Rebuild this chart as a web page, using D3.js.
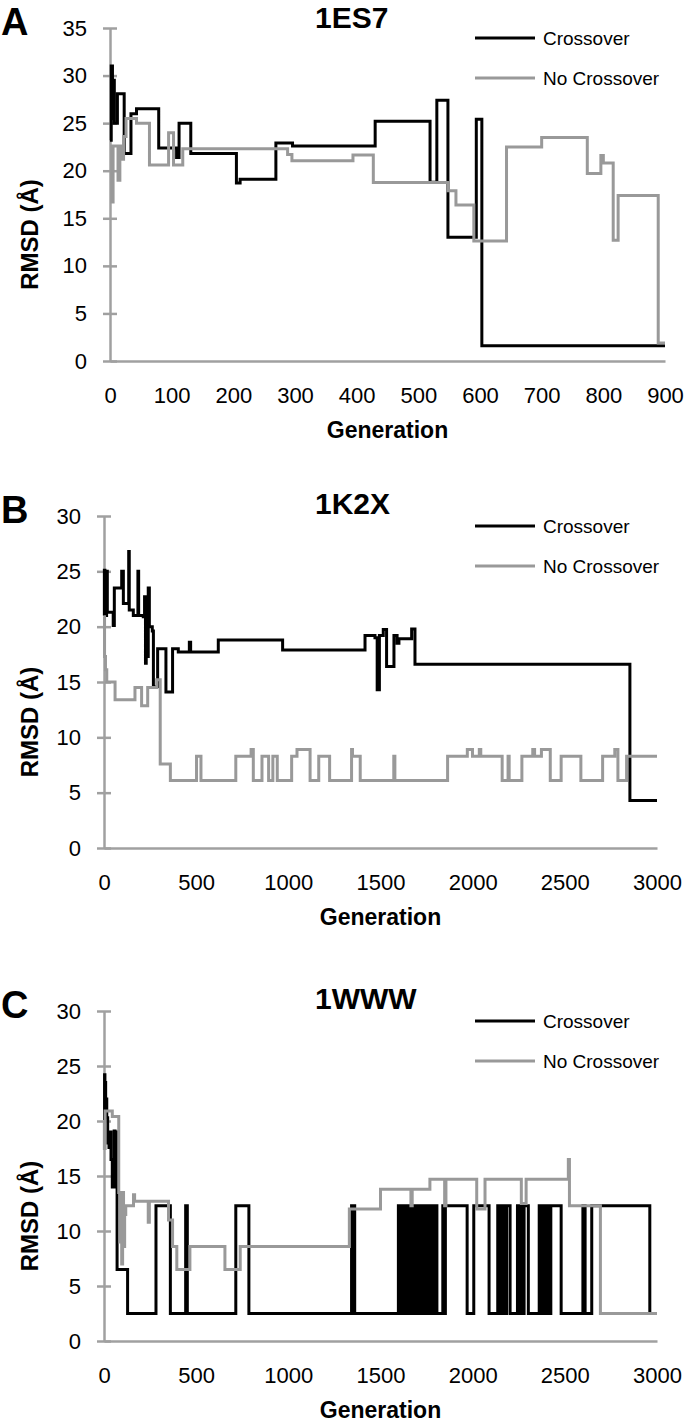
<!DOCTYPE html>
<html><head><meta charset="utf-8">
<script src="https://cdn.jsdelivr.net/npm/d3@7"></script>
<style>body{margin:0;background:#fff}svg{display:block}</style>
</head><body>
<script>
// ---------------- DATA ----------------
const seriesNames = ["Crossover", "No Crossover"];
const panelLetters = ["A", "B", "C"];
const panelTitles = ["1ES7", "1K2X", "1WWW"];
const xTicksA = [0,100,200,300,400,500,600,700,800,900];
const xTicksBC = [0,500,1000,1500,2000,2500,3000];
const yTicksA = [0,5,10,15,20,25,30,35];
const yTicksBC = [0,5,10,15,20,25,30];

// Panel A (1ES7) – step points: generation where RMSD changes, new RMSD
const aCrossGen  = [0,2,4,5,7,12,23,34,43,79,108,110,112,131,205,211,269,296,430,519,530,548,594,603,900];
const aCrossRmsd = [23.2,31.0,25.5,29.5,25.0,28.1,21.8,26.0,26.5,22.4,21.4,21.4,25.0,21.8,18.7,19.1,22.9,22.6,25.2,18.8,27.4,13.0,25.4,1.6,1.6];
const aNoGen  = [0,3,5,13,16,18,22,26,37,43,64,95,103,118,288,295,394,427,548,561,590,643,700,774,796,800,816,824,889,900];
const aNoRmsd = [22.6,16.7,22.6,19.0,22.6,21.2,23.6,25.5,25.5,25.0,20.6,24.0,20.6,22.3,21.7,21.05,21.65,18.75,17.9,16.4,12.6,22.5,23.5,19.7,21.6,20.8,12.7,17.4,1.9,1.9];

// Panel B (1K2X)
const bCrossGen  = [0,2,5,8,11,14,18,50,56,96,105,134,137,159,184,188,213,220,225,229,234,240,246,262,268,291,336,372,403,463,470,620,969,1416,1470,1482,1494,1515,1533,1573,1590,1600,1669,1687,2853,3000];
const bCrossRmsd = [21.0,25.1,21.2,24.8,21.0,25.0,21.3,20.1,23.5,25.0,22.1,26.8,21.5,21.0,25.0,21.0,20.9,22.7,16.7,22.7,17.3,23.5,20.0,19.6,14.6,18.0,14.1,18.0,17.7,18.6,17.7,18.8,17.9,19.2,19.0,14.3,19.2,19.75,16.4,19.2,18.5,18.9,19.8,16.6,4.3,4.3];
const bNoGen  = [0,3,8,15,60,168,204,237,286,305,360,502,526,715,798,810,857,893,916,940,1018,1047,1118,1165,1224,1343,1348,1390,1572,1578,1864,1971,1999,2036,2044,2160,2192,2198,2267,2326,2336,2373,2421,2480,2587,2705,2771,2788,2835,3000];
const bNoRmsd = [20.9,17.3,16.1,15.0,13.4,14.5,12.85,14.5,15.2,7.6,6.1,8.3,6.1,8.3,8.9,6.1,8.3,6.1,8.3,6.1,8.3,8.9,6.1,8.3,6.1,8.9,8.3,6.1,8.3,6.1,8.3,8.9,8.3,8.9,8.3,6.1,8.3,6.1,8.3,8.9,8.3,8.9,6.1,8.3,6.1,8.3,8.9,6.1,8.3,8.3];

// Panel C (1WWW)
const cCrossGen  = [0,3,5,7,9,12,15,20,27,33,38,45,55,60,65,71,128,282,360,443,452,715,786,1343,1350,1355,1360,
  1597,1603,1607,1613,1618,1624,1629,1636,1641,1647,1652,1660,1664,1671,1676,1682,1688,1694,1699,1712,1717,1722,1727,1742,1747,1754,1760,1768,1773,1778,1784,1790,1796,1806,1838,1843,1852,
  1970,2006,2089,2136,2146,2160,2168,2184,2203,2243,2251,2260,2268,2279,2302,2361,2367,2373,2379,2385,2392,2398,2404,2410,2418,2424,2480,2598,2610,2646,2961,2985];
const cCrossRmsd = [20.1,24.2,21.0,23.5,20.5,22.0,20.3,18.0,17.6,19.0,16.5,14.0,19.1,14.0,19.0,6.5,2.5,12.3,2.5,12.3,2.5,12.3,2.5,12.3,2.5,12.3,2.5,
  12.3,2.5,12.3,2.5,12.3,2.5,12.3,2.5,12.3,2.5,12.3,2.5,12.3,2.5,12.3,2.5,12.3,2.5,12.3,2.5,12.3,2.5,12.3,2.5,12.3,2.5,12.3,2.5,12.3,2.5,12.3,2.5,12.3,2.5,12.3,2.5,12.3,
  2.5,12.3,2.5,12.3,2.5,12.3,2.5,12.3,2.5,12.3,2.5,12.3,2.5,12.3,2.5,12.3,2.5,12.3,2.5,12.3,2.5,12.3,2.5,12.3,2.5,12.3,2.5,12.3,2.5,12.3,2.5,2.5];
const cNoGen  = [0,2,6,45,80,86,91,96,101,106,112,118,160,166,240,246,350,372,395,466,656,739,1331,1500,1665,1672,1768,1848,1855,2022,2067,2264,2290,2519,2525,2693,3000];
const cNoRmsd = [20.0,17.5,20.9,20.4,13.5,9.0,12.5,7.0,13.5,8.6,11.5,12.3,13.3,12.7,10.8,12.7,11.0,8.6,6.5,8.6,6.5,8.6,12.0,13.8,12.3,13.8,14.7,12.3,14.7,12.0,14.7,12.5,14.7,16.5,12.3,2.5,2.5];

// ---------------- LAYOUT ----------------
const W = 685, H = 1423;
const FONT = "'Liberation Sans', Arial, Helvetica, sans-serif";
const AXIS_COLOR = "#a0a0a0";
const COLORS = ["#000000", "#999999"];

const panels = [
  {letter: panelLetters[0], title: panelTitles[0], xMax: 900, xTicks: xTicksA, yMax: 35, yTicks: yTicksA,
   left: 110, right: 665, top: 28, bottom: 361,
   series: [[aCrossGen, aCrossRmsd], [aNoGen, aNoRmsd]]},
  {letter: panelLetters[1], title: panelTitles[1], xMax: 3000, xTicks: xTicksBC, yMax: 30, yTicks: yTicksBC,
   left: 104, right: 657, top: 516, bottom: 848,
   series: [[bCrossGen, bCrossRmsd], [bNoGen, bNoRmsd]]},
  {letter: panelLetters[2], title: panelTitles[2], xMax: 3000, xTicks: xTicksBC, yMax: 30, yTicks: yTicksBC,
   left: 104, right: 657, top: 1011, bottom: 1341,
   series: [[cCrossGen, cCrossRmsd], [cNoGen, cNoRmsd]]}
];

const svg = d3.select("body").append("svg")
  .attr("width", W).attr("height", H)
  .attr("font-family", FONT);

panels.forEach(p => {
  const g = svg.append("g");
  const x = d3.scaleLinear().domain([0, p.xMax]).range([p.left, p.right]);
  const y = d3.scaleLinear().domain([0, p.yMax]).range([p.bottom, p.top]);

  // x axis
  const xa = g.append("g").attr("transform", `translate(0,${p.bottom})`)
    .call(d3.axisBottom(x).tickValues(p.xTicks).tickSize(0).tickSizeOuter(0).tickPadding(26).tickFormat(d3.format("d")));
  xa.select(".domain").attr("stroke", AXIS_COLOR).attr("stroke-width", 2.5);
  xa.selectAll("text").attr("font-family", FONT).attr("font-size", 22).attr("fill", "#000");

  // y axis with crossing ticks
  const ya = g.append("g").attr("transform", `translate(${p.left},0)`)
    .call(d3.axisLeft(y).tickValues(p.yTicks).tickSize(7).tickSizeOuter(0).tickPadding(16));
  ya.select(".domain").attr("stroke", AXIS_COLOR).attr("stroke-width", 2.5);
  ya.selectAll(".tick line").attr("x1", 7).attr("x2", -7).attr("stroke", AXIS_COLOR).attr("stroke-width", 2.5);
  ya.selectAll("text").attr("font-family", FONT).attr("font-size", 22).attr("fill", "#000");

  // axis titles
  g.append("text").attr("x", (p.left + p.right) / 2).attr("y", p.bottom + 77)
    .attr("text-anchor", "middle").attr("font-size", 23).attr("font-weight", "bold").text("Generation");
  const ymid = (p.top + p.bottom) / 2 + 40;
  g.append("text").attr("transform", `translate(38,${ymid}) rotate(-90)`)
    .attr("text-anchor", "middle").attr("font-size", 24).attr("font-weight", "bold").text("RMSD (Å)");

  // panel letter + title
  g.append("text").attr("x", 1).attr("y", p.top + 7)
    .attr("font-size", 38).attr("font-weight", "bold").text(p.letter);
  g.append("text").attr("x", 315).attr("y", Math.max(p.top - 2, 28))
    .attr("font-size", 30).attr("font-weight", "bold").text(p.title);

  // series
  const line = d3.line().x(d => x(d[0])).y(d => y(d[1])).curve(d3.curveStepAfter);
  p.series.forEach((s, i) => {
    const pts = d3.zip(s[0], s[1]);
    g.append("path").datum(pts).attr("d", line)
      .attr("fill", "none").attr("stroke", COLORS[i]).attr("stroke-width", 3)
      .attr("stroke-linejoin", "miter");
  });

  // legend
  seriesNames.forEach((name, i) => {
    const ly = p.top + 10 + i * 40;
    g.append("line").attr("x1", 475).attr("x2", 535).attr("y1", ly).attr("y2", ly)
      .attr("stroke", COLORS[i]).attr("stroke-width", 3);
    g.append("text").attr("x", 543).attr("y", ly + 7).attr("font-size", 19).text(name);
  });
});
</script>
</body></html>
